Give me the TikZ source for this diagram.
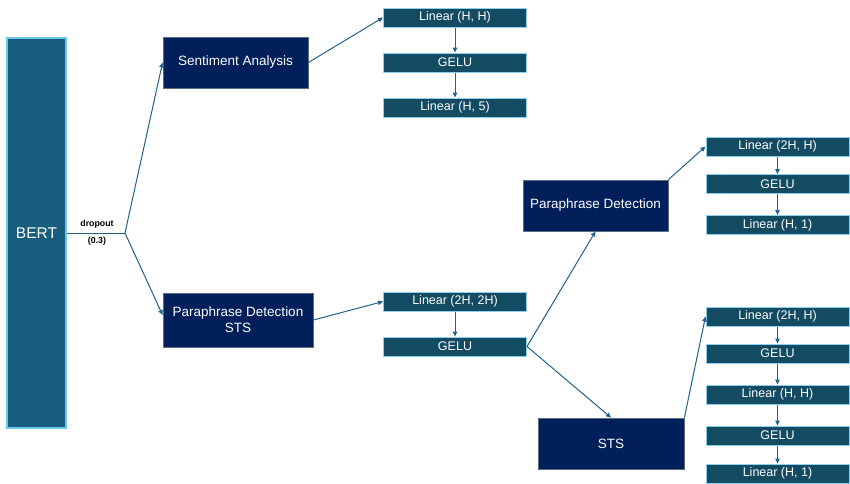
\documentclass[tikz,border=0pt]{standalone}
\usepackage{fontspec}
\setmainfont{Liberation Sans}
\usetikzlibrary{arrows.meta}
\definecolor{bertfill}{HTML}{175D7E}
\definecolor{bertline}{HTML}{6EC6EA}
\definecolor{navyfill}{HTML}{001F5B}
\definecolor{navyline}{HTML}{5A6B80}
\definecolor{layfill}{HTML}{134B62}
\definecolor{layline}{HTML}{8ED0F0}
\definecolor{arr}{HTML}{20628A}
\begin{document}
\begin{tikzpicture}[x=1pt,y=-1pt,
  bertbox/.style={draw=bertline,fill=bertfill,line width=1.2pt,text=white,font=\fontsize{15.5}{18}\selectfont,inner sep=0pt},
  taskbox/.style={draw=navyline,fill=navyfill,line width=0.8pt,text=white,font=\fontsize{13.5}{16}\selectfont,align=center,inner sep=0pt},
  laybox/.style={draw=layline,fill=layfill,line width=1pt,text=white,font=\fontsize{12.5}{14}\selectfont,inner sep=0pt,minimum width=143pt,minimum height=19pt},
  conn/.style={draw=arr,line width=1pt,-{Triangle[length=5pt,width=4.5pt]}},
  plain/.style={draw=arr,line width=1pt},
  lbl/.style={font=\bfseries\fontsize{8.8}{10}\selectfont,text=black,inner sep=0pt}]
\useasboundingbox (0,0) rectangle (850,483);
% BERT
\node[bertbox,minimum width=59pt,minimum height=390pt] (bert) at (36.5,233) {BERT};
\coordinate (junc) at (125,233);
\node[lbl] (drop) at (97,224) {dropout};
\node[lbl] (dropv) at (97,241) {(0.3)};
% task boxes
\node[taskbox,minimum width=145pt,minimum height=51pt] (sent) at (235.5,62.5) {Sentiment Analysis};
\node[taskbox,minimum width=150pt,minimum height=54pt] (pdsts) at (238,320) {Paraphrase Detection\\STS};
\node[taskbox,minimum width=145pt,minimum height=51pt] (pd) at (595.5,205.5) {Paraphrase Detection};
\node[taskbox,minimum width=146pt,minimum height=51pt] (sts) at (611,443.5) {STS};
% sentiment head
\node[laybox] (s1) at (455,17.5) {Linear (H, H)};
\node[laybox] (s2) at (455,62.5) {GELU};
\node[laybox] (s3) at (455,107.5) {Linear (H, 5)};
% shared head
\node[laybox] (m1) at (455,301.5) {Linear (2H, 2H)};
\node[laybox] (m2) at (455,346.5) {GELU};
% paraphrase head
\node[laybox] (p1) at (777.5,146.5) {Linear (2H, H)};
\node[laybox] (p2) at (777.5,184) {GELU};
\node[laybox] (p3) at (777.5,225) {Linear (H, 1)};
% sts head
\node[laybox] (t1) at (777.5,316.5) {Linear (2H, H)};
\node[laybox] (t2) at (777.5,353.5) {GELU};
\node[laybox] (t3) at (777.5,394.5) {Linear (H, H)};
\node[laybox] (t4) at (777.5,435.5) {GELU};
\node[laybox] (t5) at (777.5,473.5) {Linear (H, 1)};
% connectors
\draw[plain] (bert.east) -- (junc);
\draw[conn] (junc) -- (sent.west);
\draw[conn] (junc) -- ([yshift=5pt]pdsts.west);
\draw[conn] (sent.east) -- (s1.west);
\draw[conn] (s1) -- (s2);
\draw[conn] (s2) -- (s3);
\draw[conn] (pdsts.east) -- (m1.west);
\draw[conn] (m1) -- (m2);
\draw[conn] (m2.east) -- (pd.south);
\draw[conn] (m2.east) -- (sts.north);
\draw[conn] (pd.north east) -- (p1.west);
\draw[conn] (p1) -- (p2);
\draw[conn] (p2) -- (p3);
\draw[conn] (sts.north east) -- (t1.west);
\draw[conn] (t1) -- (t2);
\draw[conn] (t2) -- (t3);
\draw[conn] (t3) -- (t4);
\draw[conn] (t4) -- (t5);
\end{tikzpicture}
\end{document}
